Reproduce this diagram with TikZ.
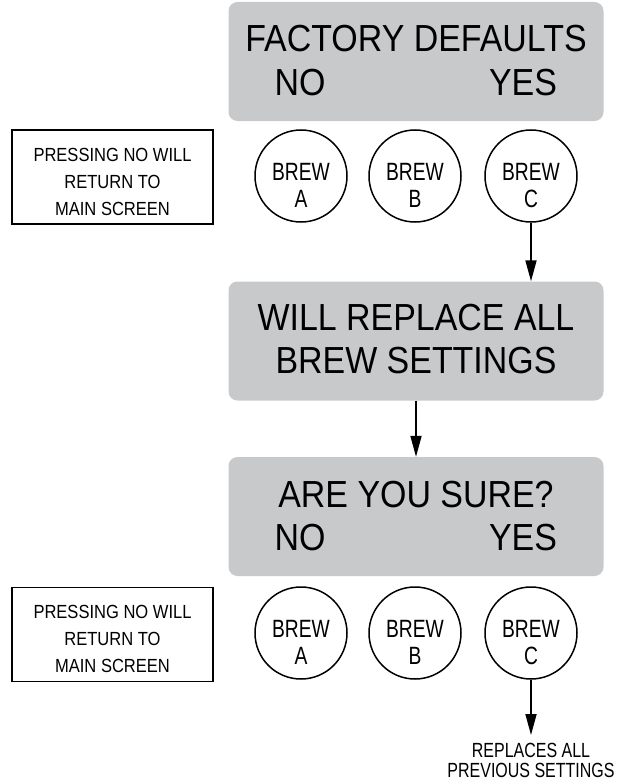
\documentclass[tikz,border=0pt]{standalone}
\usepackage{fontspec}
\setmainfont{Liberation Sans}
\newfontfamily\bigf[FakeStretch=0.9]{Liberation Sans}
\newfontfamily\notef[FakeStretch=0.87]{Liberation Sans}
\newfontfamily\brewf[FakeStretch=0.77]{Liberation Sans}
\newfontfamily\repf[FakeStretch=0.78]{Liberation Sans}
\usetikzlibrary{arrows.meta}
\definecolor{screen}{RGB}{200,201,203}
\begin{document}
\begin{tikzpicture}[x=1bp,y=-1bp,
  screenbox/.style={fill=screen, draw=none, rounded corners=9bp, minimum width=375bp, minimum height=119bp, inner sep=0pt},
  bigtext/.style={font=\bigf\fontsize{37.7bp}{44bp}\selectfont, anchor=base, inner sep=0pt},
  notebox/.style={draw, line width=1.5bp, minimum width=201bp, minimum height=94bp, inner sep=0pt},
  notetext/.style={font=\notef\fontsize{19bp}{27bp}\selectfont, align=center, inner sep=0pt},
  brew/.style={circle, draw, line width=1.5bp, minimum size=92bp, inner sep=0pt},
  brewtext/.style={font=\brewf\fontsize{25bp}{27bp}\selectfont, anchor=base, inner sep=0pt},
  reptext/.style={font=\repf\fontsize{20.5bp}{20bp}\selectfont, align=center, inner sep=0pt, anchor=north},
  arr/.style={line width=1.7bp, -{Triangle[length=21bp,width=11bp]}}
]
\useasboundingbox (0,0) rectangle (624,782);

% screens
\node[screenbox] (box1) at (416,61.5) {};
\node[screenbox] (box2) at (416,341) {};
\node[screenbox] (box3) at (416,516.5) {};

\node[bigtext] (t1) at (416,52) {FACTORY DEFAULTS};
\node[bigtext] (no1) at (300,95) {NO};
\node[bigtext] (yes1) at (523,95) {YES};

\node[bigtext] (t2a) at (416,330) {WILL REPLACE ALL};
\node[bigtext] (t2b) at (416,373) {BREW SETTINGS};

\node[bigtext] (t3) at (416,507) {ARE YOU SURE?};
\node[bigtext] (no2) at (300,550) {NO};
\node[bigtext] (yes2) at (523,550) {YES};

% notes
\node[notebox] (note1) at (112.5,177) {};
\node[notetext] (note1t) at (112.5,182) {PRESSING NO WILL\\RETURN TO\\MAIN SCREEN};
\node[notebox] (note2) at (112.5,634.5) {};
\node[notetext] (note2t) at (112.5,639) {PRESSING NO WILL\\RETURN TO\\MAIN SCREEN};

% buttons top
\node[brew] (a1) at (301,176) {};
\node[brew] (b1) at (415,176) {};
\node[brew] (c1) at (531,176) {};
\node[brewtext] (a1t) at (301,180) {BREW};
\node[brewtext] (a1l) at (301,207) {A};
\node[brewtext] (b1t) at (415,180) {BREW};
\node[brewtext] (b1l) at (415,207) {B};
\node[brewtext] (c1t) at (531,180) {BREW};
\node[brewtext] (c1l) at (531,207) {C};

% buttons bottom
\node[brew] (a2) at (301,633) {};
\node[brew] (b2) at (415,633) {};
\node[brew] (c2) at (531,633) {};
\node[brewtext] (a2t) at (301,637) {BREW};
\node[brewtext] (a2l) at (301,664) {A};
\node[brewtext] (b2t) at (415,637) {BREW};
\node[brewtext] (b2l) at (415,664) {B};
\node[brewtext] (c2t) at (531,637) {BREW};
\node[brewtext] (c2l) at (531,664) {C};

\node[reptext] (rep) at (531,743) {REPLACES ALL\\PREVIOUS SETTINGS};

% arrows
\draw[arr] (c1.south) -- (c1.south |- box2.north);
\draw[arr] (box2.south) -- (box3.north);
\draw[arr] (c2.south) -- ([yshift=8bp]rep.north);
\end{tikzpicture}
\end{document}
